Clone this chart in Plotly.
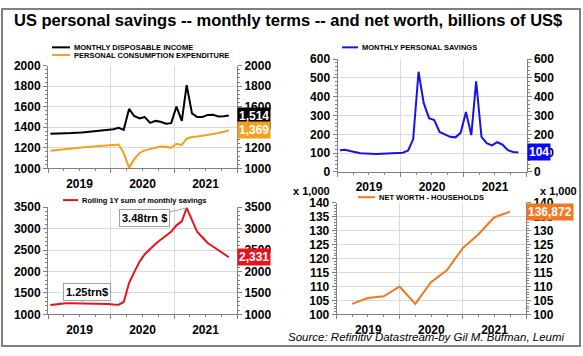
import plotly.graph_objects as go
import pandas as pd

W, H = 583, 356

# ---------------- data ----------------
months = pd.date_range("2019-01-01", periods=35, freq="MS") + pd.Timedelta(days=14)
months = [d.strftime("%Y-%m-%d") for d in months]

disposable_income = [1336, 1340, 1342, 1343, 1344, 1345, 1350, 1355, 1359, 1362, 1366, 1370,
                     1380, 1395, 1375, 1579, 1510, 1487, 1500, 1443, 1462, 1453, 1435, 1440,
                     1601, 1462, 1810, 1535, 1500, 1500, 1520, 1522, 1505, 1508, 1514]
consumption = [1172, 1178, 1188, 1192, 1196, 1200, 1204, 1208, 1212, 1216, 1220, 1224,
               1228, 1232, 1150, 1005, 1090, 1150, 1175, 1190, 1205, 1212, 1210, 1200,
               1240, 1228, 1289, 1305, 1310, 1316, 1325, 1335, 1345, 1357, 1369]
savings = [116, 118, 111, 104, 100, 98, 96, 95, 97, 99, 99, 100,
           102, 114, 175, 533, 366, 286, 276, 213, 201, 187, 184, 208,
           319, 196, 482, 187, 153, 141, 158, 145, 116, 106, 104]
rolling_1y = [1220, 1235, 1250, 1258, 1260, 1258, 1255, 1252, 1250, 1252, 1256, 1245,
              1232, 1228, 1290, 1731, 1985, 2231, 2403, 2530, 2642, 2739, 2828, 2925,
              3075, 3170, 3480, 3179, 2925, 2791, 2664, 2582, 2493, 2403, 2331]
quarters = ["2019-03-31", "2019-06-30", "2019-09-30", "2019-12-31", "2020-03-31", "2020-06-30",
            "2020-09-30", "2020-12-31", "2021-03-31", "2021-06-30", "2021-09-30"]
net_worth = [103.8, 105.9, 106.5, 110.0, 103.8, 111.6, 115.8, 123.8, 128.7, 134.8, 136.872]

title = "US personal savings -- monthly terms -- and net worth, billions of US$"
source = "Source: Refinitiv Datastream-by Gil M. Bufman, Leumi"

C_INC = "#000000"
C_PCE = "#F5A01A"
C_SAV = "#1414E6"
C_ROLL = "#E8141B"
C_NW = "#F07822"
GRID = "#D9D9D9"
AX = "#808080"
FONT = "Arial"


def px_x(x):
    return x / W


def px_y(y):
    return 1 - y / H


fig = go.Figure()

# panel 1
fig.add_trace(go.Scatter(x=months, y=disposable_income, mode="lines", line=dict(color=C_INC, width=2),
                         xaxis="x", yaxis="y", showlegend=False))
fig.add_trace(go.Scatter(x=months, y=consumption, mode="lines", line=dict(color=C_PCE, width=2),
                         xaxis="x", yaxis="y", showlegend=False))
fig.add_trace(go.Scatter(x=months, y=disposable_income, mode="lines", line=dict(color="rgba(0,0,0,0)"),
                         xaxis="x", yaxis="y2", showlegend=False, hoverinfo="skip"))
# panel 2
fig.add_trace(go.Scatter(x=months, y=savings, mode="lines", line=dict(color=C_SAV, width=2),
                         xaxis="x2", yaxis="y3", showlegend=False))
fig.add_trace(go.Scatter(x=months, y=savings, mode="lines", line=dict(color="rgba(0,0,0,0)"),
                         xaxis="x2", yaxis="y4", showlegend=False, hoverinfo="skip"))
# panel 3
fig.add_trace(go.Scatter(x=months, y=rolling_1y, mode="lines", line=dict(color=C_ROLL, width=2),
                         xaxis="x3", yaxis="y5", showlegend=False))
fig.add_trace(go.Scatter(x=months, y=rolling_1y, mode="lines", line=dict(color="rgba(0,0,0,0)"),
                         xaxis="x3", yaxis="y6", showlegend=False, hoverinfo="skip"))
# panel 4
fig.add_trace(go.Scatter(x=quarters, y=net_worth, mode="lines", line=dict(color=C_NW, width=2),
                         xaxis="x4", yaxis="y7", showlegend=False))
fig.add_trace(go.Scatter(x=quarters, y=net_worth, mode="lines", line=dict(color="rgba(0,0,0,0)"),
                         xaxis="x4", yaxis="y8", showlegend=False, hoverinfo="skip"))

tickfont = dict(family=FONT, size=12, color="#000000", weight="bold")


def xax(x0, x1, anchor):
    return dict(domain=[px_x(x0), px_x(x1)], anchor=anchor, type="date",
                range=["2019-01-01", "2022-01-01"], dtick="M12", tick0="2019-01-01",
                tickformat="%Y", ticklabelmode="period", showgrid=True, gridcolor=GRID,
                gridwidth=1, showline=True, linecolor=AX, linewidth=1, ticks="outside",
                ticklen=4, tickcolor=AX,
                minor=dict(dtick="M3", ticks="outside", ticklen=2, tickcolor=AX, showgrid=False),
                tickfont=tickfont, zeroline=False, fixedrange=True)


def yax(y_top, y_bot, anchor, rng, dtick, mdtick, side="left", overlaying=None):
    d = dict(domain=[px_y(y_bot), px_y(y_top)], anchor=anchor, range=rng, dtick=dtick,
             side=side, showline=True, linecolor=AX, linewidth=1, ticks="outside",
             ticklen=4, tickcolor=AX, tickfont=tickfont, zeroline=False,
             minor=dict(dtick=mdtick, ticks="outside", ticklen=2, tickcolor=AX, showgrid=False),
             showgrid=(overlaying is None), gridcolor=GRID, gridwidth=1, fixedrange=True)
    if overlaying:
        d["overlaying"] = overlaying
    return d


layout = dict(
    width=W, height=H, autosize=False,
    margin=dict(l=0, r=0, t=0, b=0, pad=0),
    paper_bgcolor="white", plot_bgcolor="white",
    font=dict(family=FONT, color="#000000"),
    xaxis=xax(48, 237, "y"),
    yaxis=yax(61, 168, "x", [1000, 2000], 200, 40),
    yaxis2=yax(61, 168, "x", [1000, 2000], 200, 40, side="right", overlaying="y"),
    xaxis2=xax(337.5, 526.5, "y3"),
    yaxis3=yax(54.3, 171.7, "x2", [0, 600], 100, 20),
    yaxis4=yax(54.3, 171.7, "x2", [0, 600], 100, 20, side="right", overlaying="y3"),
    xaxis3=xax(48, 237, "y5"),
    yaxis5=yax(208.3, 320, "x3", [1000, 3500], 500, 100),
    yaxis6=yax(208.3, 320, "x3", [1000, 3500], 500, 100, side="right", overlaying="y5"),
    xaxis4=xax(336.7, 526, "y7"),
    yaxis7=yax(204, 320, "x4", [100, 140], 5, 1),
    yaxis8=yax(204, 320, "x4", [100, 140], 5, 1, side="right", overlaying="y7"),
)
fig.update_layout(**layout)

ann = []
shapes = []

# title
ann.append(dict(xref="paper", yref="paper", x=px_x(12), y=px_y(14), xanchor="left", yanchor="middle",
                text="<b>" + title + "</b>", showarrow=False,
                font=dict(family=FONT, size=16.5, color="#000000")))

# legends (line sample + text)
legend_items = [
    (52, 70, 42, "MONTHLY DISPOSABLE INCOME", C_INC),
    (52, 70, 50, "PERSONAL CONSUMPTION EXPENDITURE", C_PCE),
    (342, 358, 42, "MONTHLY PERSONAL SAVINGS", C_SAV),
    (63, 78, 201, "Rolling 1Y sum of monthly savings", C_ROLL),
    (358, 375, 198, "NET WORTH - HOUSEHOLDS", C_NW),
]
for xa, xb, yy, txt, col in legend_items:
    shapes.append(dict(type="line", xref="paper", yref="paper", x0=px_x(xa), x1=px_x(xb),
                       y0=px_y(yy), y1=px_y(yy), line=dict(color=col, width=2)))
    ann.append(dict(xref="paper", yref="paper", x=px_x(xb + 2), y=px_y(yy), xanchor="left",
                    yanchor="middle", text="<b>" + txt + "</b>", showarrow=False,
                    font=dict(family=FONT, size=7.5, color="#000000")))

# value badges
badges = [
    ("x domain", "y", disposable_income[-1], f"{disposable_income[-1]:,}", C_INC),
    ("x domain", "y", consumption[-1], f"{consumption[-1]:,}", C_PCE),
    ("x2 domain", "y3", savings[-1], f"{savings[-1]:,}", "#0A0AF0"),
    ("x3 domain", "y5", rolling_1y[-1], f"{rolling_1y[-1]:,}", "#E8141B"),
    ("x4 domain", "y7", net_worth[-1], f"{round(net_worth[-1] * 1000):,}", C_NW),
]
for xr, yr, val, txt, col in badges:
    ann.append(dict(xref=xr, yref=yr, x=1, y=val, xanchor="left", yanchor="middle",
                    text="<b>" + txt + "</b>", showarrow=False, bgcolor=col, borderpad=1,
                    font=dict(family=FONT, size=12, color="#FFFFFF")))

# callouts
ann.append(dict(xref="x3", yref="y5", x=months[26], y=rolling_1y[26], ax=-42, ay=10,
                text="<b>3.48trn $</b>", showarrow=True, arrowhead=0, arrowwidth=1,
                arrowcolor="#A0A0A0", bordercolor="#A0A0A0", borderwidth=1, borderpad=2,
                bgcolor="white", font=dict(family=FONT, size=11, color="#000000")))
ann.append(dict(xref="x3", yref="y5", x="2019-07-15", y=1255, ax=5, ay=-11,
                text="<b>1.25trn$</b>", showarrow=True, arrowhead=0, arrowwidth=1,
                arrowcolor="#A0A0A0", bordercolor="#A0A0A0", borderwidth=1, borderpad=2,
                bgcolor="white", font=dict(family=FONT, size=11, color="#000000")))

# x 1,000 labels
for xc in (311, 558):
    ann.append(dict(xref="paper", yref="paper", x=px_x(xc), y=px_y(192), xanchor="center",
                    yanchor="middle", text="<b>x 1,000</b>", showarrow=False,
                    font=dict(family=FONT, size=11, color="#000000")))

# source
ann.append(dict(xref="paper", yref="paper", x=px_x(567), y=px_y(344), xanchor="right",
                yanchor="middle", text="<i>" + source + "</i>", showarrow=False,
                font=dict(family=FONT, size=11.5, color="#000000")))

# outer frame
shapes.append(dict(type="rect", xref="paper", yref="paper", x0=px_x(2), x1=px_x(580),
                   y0=px_y(353), y1=px_y(2), line=dict(color="#7F7F7F", width=2)))

fig.update_layout(annotations=ann, shapes=shapes)
fig.write_html("out.html", config={"displayModeBar": False},
               post_script="document.body.style.margin='0';document.body.style.overflow='hidden';")
